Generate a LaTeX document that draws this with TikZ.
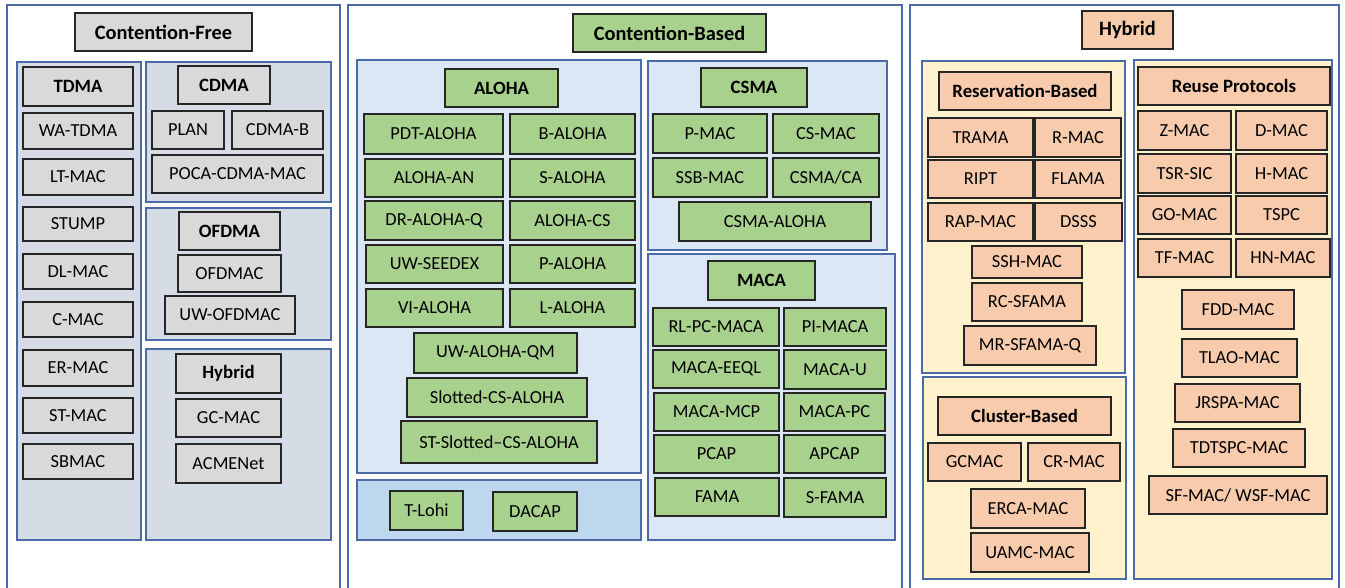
\documentclass[tikz,border=0pt]{standalone}
\usepackage{fontspec}
\setmainfont{Carlito}
\definecolor{boxline}{HTML}{262626}
\definecolor{frameblue}{HTML}{4A6BA8}
\definecolor{cfgray}{HTML}{D9D9D9}
\definecolor{cbgreen}{HTML}{A9D18E}
\definecolor{hypeach}{HTML}{F8CBAD}
\definecolor{panelgray}{HTML}{D6DCE5}
\definecolor{panelblue}{HTML}{DCE7F5}
\definecolor{panelsky}{HTML}{BDD7EE}
\definecolor{panelcream}{HTML}{FFF2CC}
\tikzset{
  base/.style={draw=boxline, line width=1.3pt, inner sep=0pt, outer sep=0pt,
    font=\fontsize{18.4}{21}\selectfont},
  cf/.style={base, fill=cfgray},
  cb/.style={base, fill=cbgreen},
  hy/.style={base, fill=hypeach},
  head/.style={font=\fontsize{18.8}{21}\selectfont\bfseries},
  toptitle/.style={font=\fontsize{20.4}{23}\selectfont\bfseries},
  section/.style={draw=frameblue, line width=1.5pt, fill=white, inner sep=0pt, outer sep=0pt},
  panel/.style={draw=frameblue, line width=1.5pt, inner sep=0pt, outer sep=0pt},
}
% \bx{name}{x1}{y1}{x2}{y2}{style}{text}: a box spanning two corners
\newcommand\bx[7]{\node[#6, minimum width={#4-#2}, minimum height={#5-#3}] (#1) at ({(#2+#4)/2},{(#3+#5)/2}) {#7};}
\begin{document}
\begin{tikzpicture}[x=1pt, y=-1pt]
\useasboundingbox (0,0) rectangle (1345,587);

% ---------- three top-level sections ----------
\bx{cfsec}{7}{5}{340}{600}{section}{}
\bx{cbsec}{348}{5}{902}{600}{section}{}
\bx{hysec}{910}{5}{1339}{600}{section}{}

% ================= Contention-Free =================
\bx{cftitle}{75}{13}{252}{51}{cf,toptitle}{Contention-Free}
\bx{tdmapanel}{17}{62}{141}{540}{panel, fill=panelgray}{}
\bx{cdmapanel}{146}{62}{331}{202}{panel, fill=panelgray}{}
\bx{ofdmapanel}{146}{208}{331}{340}{panel, fill=panelgray}{}
\bx{cfhybpanel}{146}{349}{331}{540}{panel, fill=panelgray}{}

\bx{tdma}{23}{67}{133}{106}{cf,head}{TDMA}
\bx{watdma}{23}{113}{133}{149}{cf}{WA-TDMA}
\bx{ltmac}{23}{159}{133}{195}{cf}{LT-MAC}
\bx{stump}{23}{207}{133}{241}{cf}{STUMP}
\bx{dlmac}{23}{254}{133}{289}{cf}{DL-MAC}
\bx{cmac}{23}{302}{133}{337}{cf}{C-MAC}
\bx{ermac}{23}{350}{133}{386}{cf}{ER-MAC}
\bx{stmac}{23}{398}{133}{433}{cf}{ST-MAC}
\bx{sbmac}{23}{444}{133}{479}{cf}{SBMAC}

\bx{cdma}{178}{66}{270}{104}{cf,head}{CDMA}
\bx{plan}{152}{111}{224}{149}{cf}{PLAN}
\bx{cdmab}{232}{111}{323}{149}{cf}{CDMA-B}
\bx{poca}{152}{155}{323}{193}{cf}{POCA-CDMA-MAC}

\bx{ofdma}{179}{212}{280}{250}{cf,head}{OFDMA}
\bx{ofdmac}{178}{255}{281}{292}{cf}{OFDMAC}
\bx{uwofdmac}{165}{296}{295}{334}{cf}{UW-OFDMAC}

\bx{cfhyb}{176}{354}{281}{393}{cf,head}{Hybrid}
\bx{gcmac}{176}{399}{281}{437}{cf}{GC-MAC}
\bx{acmenet}{176}{444}{281}{483}{cf}{ACMENet}

% ================= Contention-Based =================
\bx{cbtitle}{573}{14}{766}{52}{cb,toptitle}{Contention-Based}
\bx{alohapanel}{357}{60}{641}{473}{panel, fill=panelblue}{}
\bx{lohipanel}{357}{480}{641}{540}{panel, fill=panelsky}{}
\bx{csmapanel}{648}{61}{887}{250}{panel, fill=panelblue}{}
\bx{macapanel}{648}{254}{895}{540}{panel, fill=panelblue}{}

\bx{aloha}{445}{69}{558}{107}{cb,head}{ALOHA}
\bx{pdtaloha}{364}{114}{503}{154}{cb}{PDT-ALOHA}
\bx{baloha}{510}{114}{635}{154}{cb}{B-ALOHA}
\bx{alohaan}{365}{159}{503}{197}{cb}{ALOHA-AN}
\bx{saloha}{510}{159}{635}{197}{cb}{S-ALOHA}
\bx{draloha}{365}{201}{503}{240}{cb}{DR-ALOHA-Q}
\bx{alohacs}{510}{201}{635}{240}{cb}{ALOHA-CS}
\bx{uwseedex}{366}{245}{503}{283}{cb}{UW-SEEDEX}
\bx{paloha}{510}{245}{635}{283}{cb}{P-ALOHA}
\bx{vialoha}{366}{289}{503}{327}{cb}{VI-ALOHA}
\bx{laloha}{510}{289}{635}{327}{cb}{L-ALOHA}
\bx{uwalohaqm}{414}{333}{577}{373}{cb}{UW-ALOHA-QM}
\bx{slotted}{407}{378}{587}{417}{cb}{Slotted-CS-ALOHA}
\bx{stslotted}{401}{421}{597}{463}{cb}{ST-Slotted–CS-ALOHA}

\bx{tlohi}{390}{491}{463}{530}{cb}{T-Lohi}
\bx{dacap}{493}{492}{577}{531}{cb}{DACAP}

\bx{csma}{701}{68}{807}{107}{cb,head}{CSMA}
\bx{pmac}{653}{114}{767}{153}{cb}{P-MAC}
\bx{csmac}{773}{114}{879}{153}{cb}{CS-MAC}
\bx{ssbmac}{653}{158}{767}{197}{cb}{SSB-MAC}
\bx{csmaca}{773}{158}{879}{197}{cb}{CSMA/CA}
\bx{csmaaloha}{679}{202}{871}{241}{cb}{CSMA-ALOHA}

\bx{maca}{708}{261}{815}{300}{cb,head}{MACA}
\bx{rlpcmaca}{653}{308}{779}{346}{cb}{RL-PC-MACA}
\bx{pimaca}{784}{308}{886}{346}{cb}{PI-MACA}
\bx{macaeeql}{653}{350}{779}{388}{cb}{MACA-EEQL}
\bx{macau}{784}{350}{886}{389}{cb}{MACA-U}
\bx{macamcp}{654}{393}{779}{431}{cb}{MACA-MCP}
\bx{macapc}{784}{393}{885}{431}{cb}{MACA-PC}
\bx{pcap}{654}{435}{779}{473}{cb}{PCAP}
\bx{apcap}{784}{435}{885}{473}{cb}{APCAP}
\bx{fama}{655}{478}{779}{516}{cb}{FAMA}
\bx{sfama}{784}{478}{886}{517}{cb}{S-FAMA}

% ================= Hybrid =================
\bx{hytitle}{1082}{11}{1173}{49}{hy,toptitle}{Hybrid}
\bx{respanel}{922}{61}{1125}{373}{panel, fill=panelcream}{}
\bx{clupanel}{923}{377}{1126}{579}{panel, fill=panelcream}{}
\bx{reusepanel}{1134}{60}{1332}{579}{panel, fill=panelcream}{}

\bx{resbased}{939}{72}{1111}{110}{hy,head}{Reservation-Based}
\bx{trama}{928}{118}{1033}{157}{hy}{TRAMA}
\bx{rmac}{1035}{118}{1121}{157}{hy}{R-MAC}
\bx{ript}{928}{160}{1033}{198}{hy}{RIPT}
\bx{flama}{1035}{160}{1121}{198}{hy}{FLAMA}
\bx{rapmac}{928}{203}{1033}{241}{hy}{RAP-MAC}
\bx{dsss}{1035}{203}{1122}{241}{hy}{DSSS}
\bx{sshmac}{972}{246}{1082}{278}{hy}{SSH-MAC}
\bx{rcsfama}{972}{283}{1082}{321}{hy}{RC-SFAMA}
\bx{mrsfama}{964}{326}{1096}{365}{hy}{MR-SFAMA-Q}

\bx{clubased}{938}{397}{1111}{435}{hy,head}{Cluster-Based}
\bx{gcmacb}{928}{443}{1021}{481}{hy}{GCMAC}
\bx{crmac}{1028}{443}{1120}{481}{hy}{CR-MAC}
\bx{ercamac}{971}{489}{1085}{528}{hy}{ERCA-MAC}
\bx{uamcmac}{971}{533}{1089}{572}{hy}{UAMC-MAC}

\bx{reuse}{1138}{67}{1330}{105}{hy,head}{Reuse Protocols}
\bx{zmac}{1138}{111}{1231}{150}{hy}{Z-MAC}
\bx{dmac}{1236}{111}{1327}{150}{hy}{D-MAC}
\bx{tsrsic}{1138}{154}{1231}{193}{hy}{TSR-SIC}
\bx{hmac}{1236}{154}{1327}{193}{hy}{H-MAC}
\bx{gomac}{1138}{196}{1231}{234}{hy}{GO-MAC}
\bx{tspc}{1236}{196}{1327}{234}{hy}{TSPC}
\bx{tfmac}{1138}{239}{1231}{277}{hy}{TF-MAC}
\bx{hnmac}{1236}{239}{1330}{277}{hy}{HN-MAC}
\bx{fddmac}{1182}{290}{1294}{329}{hy}{FDD-MAC}
\bx{tlaomac}{1182}{339}{1297}{377}{hy}{TLAO-MAC}
\bx{jrspamac}{1175}{384}{1300}{422}{hy}{JRSPA-MAC}
\bx{tdtspcmac}{1173}{429}{1305}{467}{hy}{TDTSPC-MAC}
\bx{sfmac}{1149}{476}{1327}{514}{hy}{SF-MAC/ WSF-MAC}
\end{tikzpicture}
\end{document}
